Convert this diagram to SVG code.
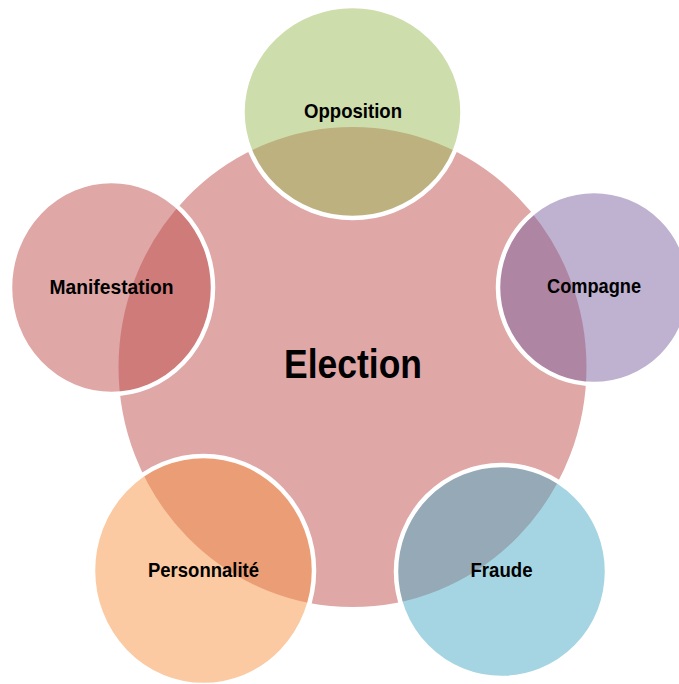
<svg xmlns="http://www.w3.org/2000/svg" width="679" height="684" viewBox="0 0 679 684">
  <style>
    .hub { fill: #C0504D; fill-opacity: 0.5; stroke: #FFFFFF; stroke-width: 4; }
    .sat { fill-opacity: 0.5; stroke: #FFFFFF; stroke-width: 4.5; }
    .lbl { font-family: "Liberation Sans", Arial, sans-serif; font-weight: bold; fill: #000000; text-anchor: middle; }
    .hub-lbl { font-size: 41px; }
    .sat-lbl { font-size: 21px; }
  </style>
  <rect width="679" height="684" fill="#FFFFFF"/>

  <g id="election">
    <ellipse class="hub" cx="352.5" cy="367" rx="236" ry="242"/>
    <text class="lbl hub-lbl" x="353" y="378" textLength="138" lengthAdjust="spacingAndGlyphs">Election</text>
  </g>

  <g id="connectors"></g>

  <g id="opposition">
    <ellipse class="sat" cx="352.5" cy="112" rx="110" ry="106" fill="#9BBB59"/>
    <text class="lbl sat-lbl" x="353" y="118" textLength="98" lengthAdjust="spacingAndGlyphs">Opposition</text>
  </g>

  <g id="compagne">
    <ellipse class="sat" cx="594" cy="287.5" rx="96" ry="96.5" fill="#8064A2"/>
    <text class="lbl sat-lbl" x="594" y="293" textLength="94" lengthAdjust="spacingAndGlyphs">Compagne</text>
  </g>

  <g id="fraude">
    <ellipse class="sat" cx="501.5" cy="571.5" rx="105.5" ry="106.5" fill="#4BACC6"/>
    <text class="lbl sat-lbl" x="501.5" y="577" textLength="62" lengthAdjust="spacingAndGlyphs">Fraude</text>
  </g>

  <g id="personnalite">
    <ellipse class="sat" cx="203.5" cy="570.5" rx="110.5" ry="114.5" fill="#F79646"/>
    <text class="lbl sat-lbl" x="203.5" y="577" textLength="111" lengthAdjust="spacingAndGlyphs">Personnalité</text>
  </g>

  <g id="manifestation">
    <ellipse class="sat" cx="111.5" cy="287.5" rx="101.5" ry="106.5" fill="#C0504D"/>
    <text class="lbl sat-lbl" x="111.5" y="294" textLength="124" lengthAdjust="spacingAndGlyphs">Manifestation</text>
  </g>
</svg>
